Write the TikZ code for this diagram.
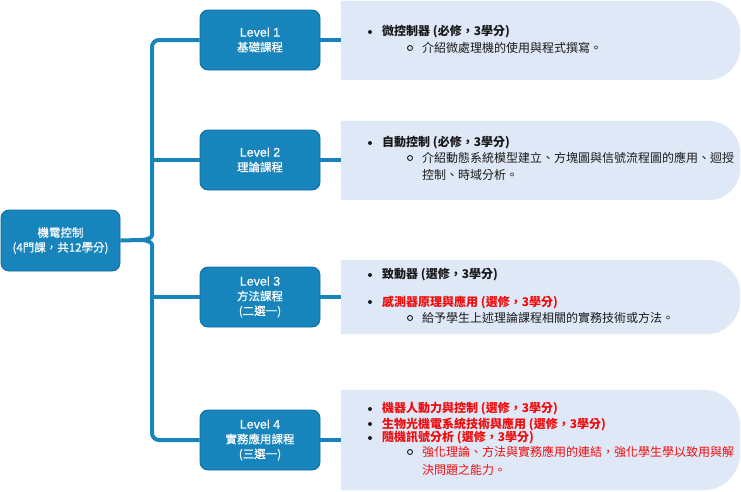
\documentclass[tikz,border=0pt]{standalone}
\usepackage{fontspec}
\setmainfont{Noto Sans CJK TC}
\newfontfamily\latf{Liberation Sans}[FakeBold=0.5]
\newfontfamily\lvf{Noto Sans CJK TC}[FakeBold=0.5]
\definecolor{lvblue}{RGB}{24,132,188}
\definecolor{lvborder}{RGB}{14,105,160}
\definecolor{descfill}{RGB}{223,232,247}
\definecolor{myred}{RGB}{240,12,12}
\definecolor{txt}{RGB}{25,25,25}
\tikzset{
 lvbox/.style={draw=lvborder, line width=0.8pt, fill=lvblue, rounded corners=8pt, minimum width=120pt, minimum height=60pt, text=white, align=center, font=\lvf\fontsize{11.5}{14.8}\selectfont, inner sep=0pt},
 conn/.style={draw=lvblue, line width=4pt},
 descbox/.style={inner sep=0pt, minimum width=399pt},
 itemt/.style={anchor=west, inner sep=0pt, font=\fontsize{12}{17}\selectfont\bfseries, text=txt},
 subt/.style={anchor=west, inner sep=0pt, font=\fontsize{12}{17}\selectfont, text=txt, align=left},
 dotb/.style={circle, fill=txt, inner sep=0pt, minimum size=4pt},
 ringb/.style={circle, draw=txt, line width=0.9pt, inner sep=0pt, minimum size=5pt},
}
\newcommand\lvl[1]{{\latf\fontsize{12.5}{14.8}\selectfont Level #1}}
\newcommand\descshape[2]{%
 \fill[descfill] (#1.north west) -- ([xshift=-#2]#1.north east) arc[start angle=90,end angle=0,radius=#2] -- ([yshift=#2]#1.south east) arc[start angle=0,end angle=-90,radius=#2] -- (#1.south west) -- cycle;}
\begin{document}
\begin{tikzpicture}[x=1pt,y=1pt]
\useasboundingbox (0,0) rectangle (741,-491);
% description boxes
\node[descbox, minimum height=79pt] (d1) at (540.5,-40.5) {};
\node[descbox, minimum height=79pt] (d2) at (540.5,-160.5) {};
\node[descbox, minimum height=74pt] (d3) at (540.5,-297) {};
\node[descbox, minimum height=100pt] (d4) at (540.5,-440) {};
\descshape{d1}{33pt}
\descshape{d2}{32pt}
\descshape{d3}{34pt}
\descshape{d4}{37pt}
% root and level boxes
\node[lvbox, minimum width=119pt, minimum height=61pt] (root) at (60.5,-240.5) {機電控制\\(4門課，共12學分)};
\node[lvbox] (lv1) at (260,-40) {\lvl{1}\\基礎課程};
\node[lvbox] (lv2) at (260,-160) {\lvl{2}\\理論課程};
\node[lvbox] (lv3) at (260,-297) {\lvl{3}\\方法課程\\(二選一)};
\node[lvbox] (lv4) at (260,-440) {\lvl{4}\\實務應用課程\\(三選一)};
% brace connectors
\coordinate (nub) at (140,-240);
\coordinate (bt) at (152,-228);
\coordinate (bb) at (152,-252);
\coordinate (j2) at (152,-160);
\coordinate (j3) at (152,-297);
\draw[conn] (root.east) -- (nub);
\draw[conn, rounded corners=7pt] (nub) .. controls (149,-240) and (152,-237) .. (bt) -- (152,-40) -- (lv1.west);
\draw[conn, rounded corners=7pt] (nub) .. controls (149,-240) and (152,-243) .. (bb) -- (152,-440) -- (lv4.west);
\draw[conn] (j2) -- (lv2.west);
\draw[conn] (j3) -- (lv3.west);
% level to description
\draw[conn] (lv1.east) -- (d1.west |- lv1.east);
\draw[conn] (lv2.east) -- (d2.west |- lv2.east);
\draw[conn] (lv3.east) -- (d3.west |- lv3.east);
\draw[conn] (lv4.east) -- (d4.west |- lv4.east);
% box 1
\node[dotb] (b11) at (370,-32) {};
\node[itemt] (t11) at (382,-32) {微控制器 (必修，3學分)};
\node[ringb] (r11) at (410,-48) {};
\node[subt] (s11) at (422,-48) {介紹微處理機的使用與程式撰寫。};
% box 2
\node[dotb] (b21) at (370,-143) {};
\node[itemt] (t21) at (382,-143) {自動控制 (必修，3學分)};
\node[ringb] (r21) at (410,-158) {};
\node[subt] (s21) at (422,-166.5) {介紹動態系統模型建立、方塊圖與信號流程圖的應用、迴授\\控制、時域分析。};
% box 3
\node[dotb] (b31) at (370,-275) {};
\node[itemt] (t31) at (382,-275) {致動器 (選修，3學分)};
\node[dotb] (b32) at (370,-302) {};
\node[itemt, text=myred] (t32) at (382,-302) {感測器原理與應用 (選修，3學分)};
\node[ringb] (r31) at (410,-318) {};
\node[subt] (s31) at (422,-318) {給予學生上述理論課程相關的實務技術或方法。};
% box 4
\node[dotb] (b41) at (370,-409) {};
\node[itemt, text=myred] (t41) at (382,-409) {機器人動力與控制 (選修，3學分)};
\node[dotb] (b42) at (370,-424) {};
\node[itemt, text=myred] (t42) at (382,-424) {生物光機電系統技術與應用 (選修，3學分)};
\node[dotb] (b43) at (370,-438) {};
\node[itemt, text=myred] (t43) at (382,-438) {隨機訊號分析 (選修，3學分)};
\node[ringb] (r41) at (410,-452) {};
\node[subt, text=myred, font=\fontsize{12}{18}\selectfont] (s41) at (422,-461) {強化理論、方法與實務應用的連結，強化學生學以致用與解\\決問題之能力。};
\end{tikzpicture}
\end{document}
